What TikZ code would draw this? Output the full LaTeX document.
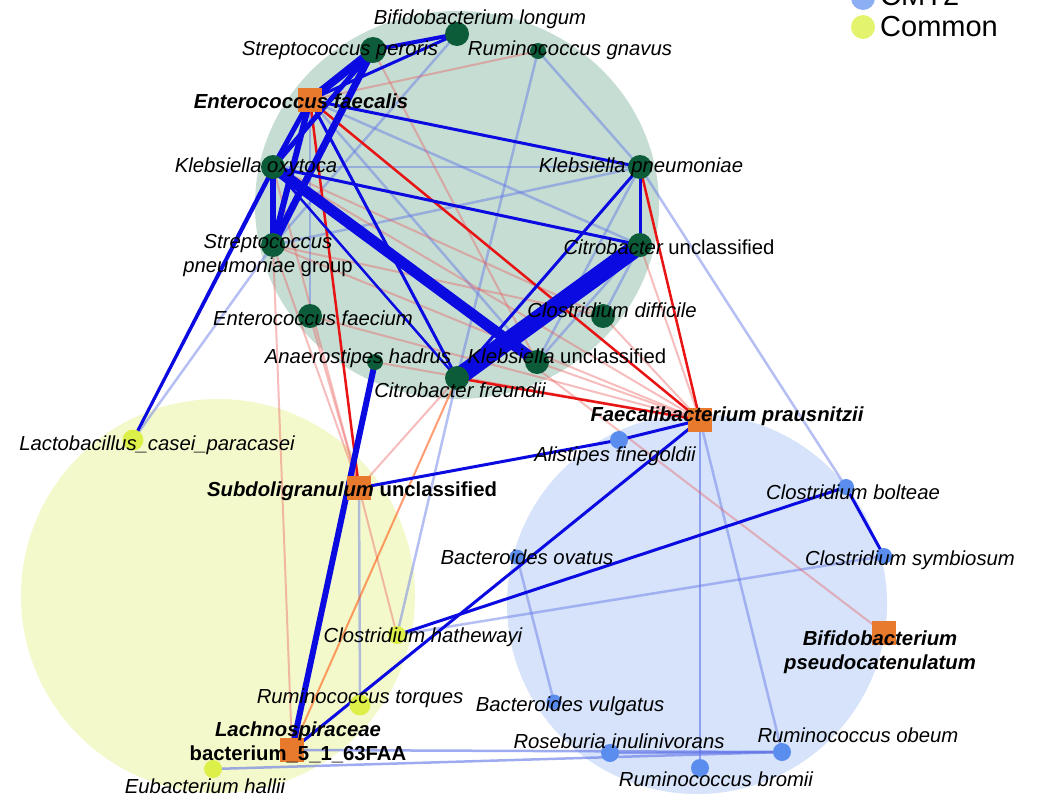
\documentclass[tikz,border=0pt]{standalone}
\usepackage{fontspec}
\setmainfont{Liberation Sans}
\pgfdeclarelayer{bgc}
\pgfdeclarelayer{edges}
\pgfsetlayers{bgc,edges,main}
\definecolor{cgreen}{RGB}{198,221,212}
\definecolor{cyellow}{RGB}{244,249,204}
\definecolor{cblue}{RGB}{214,227,250}
\definecolor{ngreen}{RGB}{12,92,58}
\definecolor{norange}{RGB}{232,122,46}
\definecolor{nblue}{RGB}{91,141,239}
\definecolor{nyellow}{RGB}{221,240,74}
\definecolor{eblue}{RGB}{10,10,225}
\definecolor{lblue}{RGB}{95,115,230}
\definecolor{ered}{RGB}{232,20,20}
\definecolor{lred}{RGB}{236,90,90}
\tikzset{
  gn/.style={circle, fill=ngreen, minimum size=24pt, inner sep=0pt},
  gns/.style={circle, fill=ngreen, minimum size=16pt, inner sep=0pt},
  on/.style={rectangle, fill=norange, minimum size=24pt, inner sep=0pt},
  bn/.style={circle, fill=nblue, minimum size=18pt, inner sep=0pt},
  yn/.style={circle, fill=nyellow, minimum size=21pt, inner sep=0pt},
  lab/.style={font=\fontsize{20.3}{24}\selectfont\itshape, inner sep=0pt, align=center},
  blab/.style={font=\fontsize{20.3}{24}\selectfont\bfseries\itshape, inner sep=0pt, align=center},
  legt/.style={font=\fontsize{29}{32}\selectfont, inner sep=0pt, anchor=west},
  eb/.style={draw=eblue, line width=3pt},
  elb/.style={draw=lblue, line width=2.5pt, draw opacity=0.45},
  er/.style={draw=ered, line width=2.5pt},
  elr/.style={draw=lred, line width=2pt, draw opacity=0.4},
}
\begin{document}
\begin{tikzpicture}[x=1pt,y=-1pt]
\useasboundingbox (0,0) rectangle (1038,801);
\begin{pgfonlayer}{bgc}
  \fill[white] (0,0) rectangle (1038,801);
  \fill[cgreen] (457,205) ellipse [x radius=202pt, y radius=194pt];
  \fill[cyellow] (218,596) circle [radius=197pt];
  \fill[cblue] (697,604) circle [radius=190pt];
\end{pgfonlayer}

% markers
\node[gn] (nBL) at (457,34) {};
\node[gn, minimum size=26pt] (nSPer) at (373,50) {};
\node[gns] (nRG) at (538,51) {};
\node[on] (nEFs) at (310,100) {};
\node[gn] (nKO) at (273,167) {};
\node[gn] (nKP) at (640,167) {};
\node[gn] (nCU) at (640,245) {};
\node[gn] (nSPn) at (273,245) {};
\node[gn] (nEFm) at (310,316) {};
\node[gn] (nCD) at (603,316) {};
\node[gns] (nAH) at (375,362) {};
\node[gn] (nKU) at (537,362) {};
\node[gn] (nCF) at (457,378) {};
\node[on] (nFP) at (700,420) {};
\node[on] (nSU) at (359,488) {};
\node[on] (nBP) at (884,633) {};
\node[on] (nLB) at (292,750) {};
\node[bn] (nAF) at (619,440) {};
\node[bn, minimum size=16pt] (nCB) at (846,487) {};
\node[bn, minimum size=15pt] (nBO) at (517,557) {};
\node[bn, minimum size=16pt] (nCS) at (884,556) {};
\node[bn, minimum size=15pt] (nBV) at (554,702) {};
\node[bn] (nRI) at (610,753) {};
\node[bn] (nRO) at (782,752) {};
\node[bn] (nRB) at (700,768) {};
\node[yn] (nLC) at (133,440) {};
\node[yn, minimum size=18pt] (nCH) at (397,635) {};
\node[yn] (nRT) at (360,705) {};
\node[yn, minimum size=18pt] (nEH) at (213,769) {};

\begin{pgfonlayer}{edges}
  % light blue
  \foreach \a/\b in {KO/KP, SPn/KP, RG/KP, RG/CF, BL/SPn, EFs/CU, EFs/KU, EFs/EFm, KP/KU, KP/CB, CU/KU, CD/CU, SPn/LC, CF/CH, SU/RT, CS/CH, BO/BV, FP/RO, SPer/BL, KO/KU}
    \draw[elb] (n\a.center) -- (n\b.center);
  \draw[elb, draw opacity=0.6, line width=2pt] (nFP.center) -- (nRB.center);
  \draw[elb, draw opacity=0.6, line width=2.5pt] (nLB.center) -- (nRO.center);
  \draw[elb, draw opacity=0.6, line width=2.5pt] (nEH.center) -- (nRO.center);
  \draw[elb, draw opacity=0.6] (nRI.center) -- (nRO.center);
  % light red
  \foreach \a/\b in {RG/EFs, SPer/KU, KO/FP, SPn/FP, EFm/FP, KU/FP, CD/FP, CU/FP, SPn/SU, KO/SU, EFm/SU, CF/SU, SU/CH, SPn/LB, KO/BP, SPn/CD, KO/CD, AH/FP}
    \draw[elr] (n\a.center) -- (n\b.center);
  \draw[elr, draw=orange!60!red, draw opacity=0.55] (nCF.center) -- (nLB.center);
  % red
  \foreach \a/\b in {EFs/FP, EFs/SU, KP/FP, CF/FP}
    \draw[er] (n\a.center) -- (n\b.center);
  % blue medium
  \foreach \a/\b in {EFs/BL, EFs/KP, KO/CU, EFs/CF, KP/CU, KP/CF, KO/LC, SU/AF, AF/FP, FP/LB, CB/CH, CB/CS}
    \draw[eb] (n\a.center) -- (n\b.center);
  \draw[eb, line width=2.5pt] (nEFs.center) -- (nLC.center);
  \draw[eb, line width=2.5pt] (nKO.center) -- (nCF.center);
  \draw[eb, line width=4pt] (nSPer.center) -- (nBL.center);
  % thick blue
  \draw[eb, line width=8pt] (nSPer.center) -- (nEFs.center);
  \draw[eb, line width=5pt] (nSPer.center) -- (nKO.center);
  \draw[eb, line width=7pt] (nSPer.center) -- (nSPn.center);
  \draw[eb, line width=5pt] (nEFs.center) -- (nKO.center);
  \draw[eb, line width=6pt] (nEFs.center) -- (nSPn.center);
  \draw[eb, line width=6pt] (nKO.center) -- (nSPn.center);
  \draw[eb, line width=11pt] (nKO.center) -- (nKU.center);
  \draw[eb, line width=18pt] (nCU.center) -- (nCF.center);
  \draw[eb, line width=6pt] (nAH.center) -- (nLB.center);
\end{pgfonlayer}

% labels
\node[lab] (tBL) at (480,19) {Bifidobacterium longum};
\node[lab] (tSPer) at (340,50) {Streptococcus peroris};
\node[lab] (tRG) at (570,50) {Ruminococcus gnavus};
\node[blab] (tEFs) at (301,101) {Enterococcus faecalis};
\node[lab] (tKO) at (256,167) {Klebsiella oxytoca};
\node[lab] (tKP) at (641,167) {Klebsiella pneumoniae};
\node[lab] (tCU) at (669,247) {Citrobacter \upshape unclassified};
\node[lab] (tSPn) at (268,256) {Streptococcus\\pneumoniae \upshape group};
\node[lab] (tEFm) at (313,318) {Enterococcus faecium};
\node[lab] (tCD) at (612,310) {Clostridium difficile};
\node[lab] (tAH) at (358,358) {Anaerostipes hadrus};
\node[lab] (tKU) at (567,356) {Klebsiella \upshape unclassified};
\node[lab] (tCF) at (460,390) {Citrobacter freundii};
\node[blab] (tFP) at (727,416) {Faecalibacterium prausnitzii};
\node[lab] (tAF) at (615,456) {Alistipes finegoldii};
\node[lab] (tLC) at (157,445) {Lactobacillus\_casei\_paracasei};
\node[blab] (tSU) at (352,491) {Subdoligranulum \upshape unclassified};
\node[lab] (tCB) at (853,492) {Clostridium bolteae};
\node[lab] (tBO) at (527,557) {Bacteroides ovatus};
\node[lab] (tCS) at (910,560) {Clostridium symbiosum};
\node[blab] (tBP) at (880,652) {Bifidobacterium\\pseudocatenulatum};
\node[lab] (tCH) at (423,637) {Clostridium hathewayi};
\node[lab] (tRT) at (360,698) {Ruminococcus torques};
\node[lab] (tBV) at (570,706) {Bacteroides vulgatus};
\node[blab] (tLB) at (298,742) {Lachnospiraceae\\\upshape bacterium\_5\_1\_63FAA};
\node[lab] (tRI) at (619,741) {Roseburia inulinivorans};
\node[lab] (tRO) at (858,735) {Ruminococcus obeum};
\node[lab] (tRB) at (716,779) {Ruminococcus bromii};
\node[lab] (tEH) at (205,786) {Eubacterium hallii};

% legend
\node[circle, fill=nblue!70!white, minimum size=24pt, inner sep=0pt] (lgB) at (863,-2) {};
\node[legt] (lgBt) at (880,-4) {CMT2};
\node[circle, fill=nyellow!80!white, minimum size=24pt, inner sep=0pt] (lgY) at (863,27) {};
\node[legt] (lgYt) at (880,27) {Common};
\end{tikzpicture}
\end{document}
